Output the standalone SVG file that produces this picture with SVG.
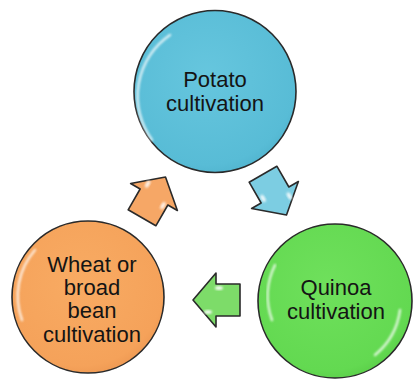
<svg xmlns="http://www.w3.org/2000/svg" width="415" height="379" viewBox="0 0 415 379">
  <defs>
    <radialGradient id="gBlue" cx="0.45" cy="0.4" r="0.65">
      <stop offset="0" stop-color="#66c6de"/>
      <stop offset="0.85" stop-color="#58bcd6"/>
      <stop offset="1" stop-color="#4fb2cd"/>
    </radialGradient>
    <radialGradient id="gGreen" cx="0.45" cy="0.4" r="0.65">
      <stop offset="0" stop-color="#6fe05c"/>
      <stop offset="0.85" stop-color="#63d951"/>
      <stop offset="1" stop-color="#58cc47"/>
    </radialGradient>
    <radialGradient id="gOrange" cx="0.45" cy="0.4" r="0.65">
      <stop offset="0" stop-color="#f8ab63"/>
      <stop offset="0.85" stop-color="#f5a25a"/>
      <stop offset="1" stop-color="#ec9650"/>
    </radialGradient>
    <filter id="soft" x="-20%" y="-20%" width="140%" height="140%">
      <feGaussianBlur stdDeviation="1.2"/>
    </filter>
    <!-- block arrow pointing along +x, centred on the origin -->
    <path id="arrow" d="M-24,-16 L0,-16 L0,-27 L23,0 L0,27 L0,16 L-24,16 Z"/>
  </defs>
  <style>
    .ring { stroke: #2a2a2a; stroke-width: 1.6; }
    .shine { fill: none; stroke: #ffffff; stroke-width: 2.5; stroke-linecap: round; opacity: 0.75; }
    .label { font-family: "Liberation Sans", Arial, sans-serif; font-size: 22px; fill: #141414; text-anchor: middle; }
    .arrowbody { stroke: #2a2a2a; stroke-width: 1.6; stroke-linejoin: round; }
    .spot { fill: #ffffff; opacity: 0.85; }
  </style>

  <rect width="415" height="379" fill="#ffffff"/>

  <!-- connectors: cycle arrows -->
  <g id="connectors">
    <g id="arrow-potato-quinoa" transform="translate(275,195) rotate(60)">
      <use href="#arrow" class="arrowbody" fill="#7ccde2"/>
      <ellipse class="spot" cx="8" cy="-12" rx="4" ry="2" filter="url(#soft)"/>
      <ellipse class="spot" cx="-3" cy="12" rx="4" ry="2" filter="url(#soft)"/>
    </g>
    <g id="arrow-quinoa-wheat" transform="translate(216,300) rotate(180)">
      <use href="#arrow" class="arrowbody" fill="#7ddc69"/>
      <ellipse class="spot" cx="8" cy="-12" rx="4" ry="2" filter="url(#soft)"/>
      <ellipse class="spot" cx="-3" cy="12" rx="4" ry="2" filter="url(#soft)"/>
    </g>
    <g id="arrow-wheat-potato" transform="translate(154,197) rotate(-60)">
      <use href="#arrow" class="arrowbody" fill="#f6a766"/>
      <ellipse class="spot" cx="8" cy="-12" rx="4" ry="2" filter="url(#soft)"/>
      <ellipse class="spot" cx="-3" cy="12" rx="4" ry="2" filter="url(#soft)"/>
    </g>
  </g>

  <!-- cycle stages -->
  <g id="node-potato">
    <circle cx="215" cy="91.5" r="81" fill="url(#gBlue)" class="ring"/>
    <path class="shine" d="M152,140 A74,74 0 0 1 170,35" filter="url(#soft)"/>
    <text class="label" x="215" y="87">Potato</text>
    <text class="label" x="215" y="111">cultivation</text>
  </g>

  <g id="node-quinoa">
    <circle cx="335" cy="301" r="77" fill="url(#gGreen)" class="ring"/>
    <path class="shine" d="M272,320 A70,70 0 0 1 275,265" filter="url(#soft)"/>
    <path class="shine" d="M400,310 A70,70 0 0 1 375,355" filter="url(#soft)"/>
    <text class="label" x="336" y="295">Quinoa</text>
    <text class="label" x="336" y="319">cultivation</text>
  </g>

  <g id="node-wheat">
    <circle cx="88" cy="297" r="76" fill="url(#gOrange)" class="ring"/>
    <path class="shine" d="M22,320 A70,70 0 0 1 35,250" filter="url(#soft)"/>
    <text class="label" x="92" y="272">Wheat or</text>
    <text class="label" x="92" y="295">broad</text>
    <text class="label" x="92" y="318">bean</text>
    <text class="label" x="92" y="342">cultivation</text>
  </g>
</svg>
